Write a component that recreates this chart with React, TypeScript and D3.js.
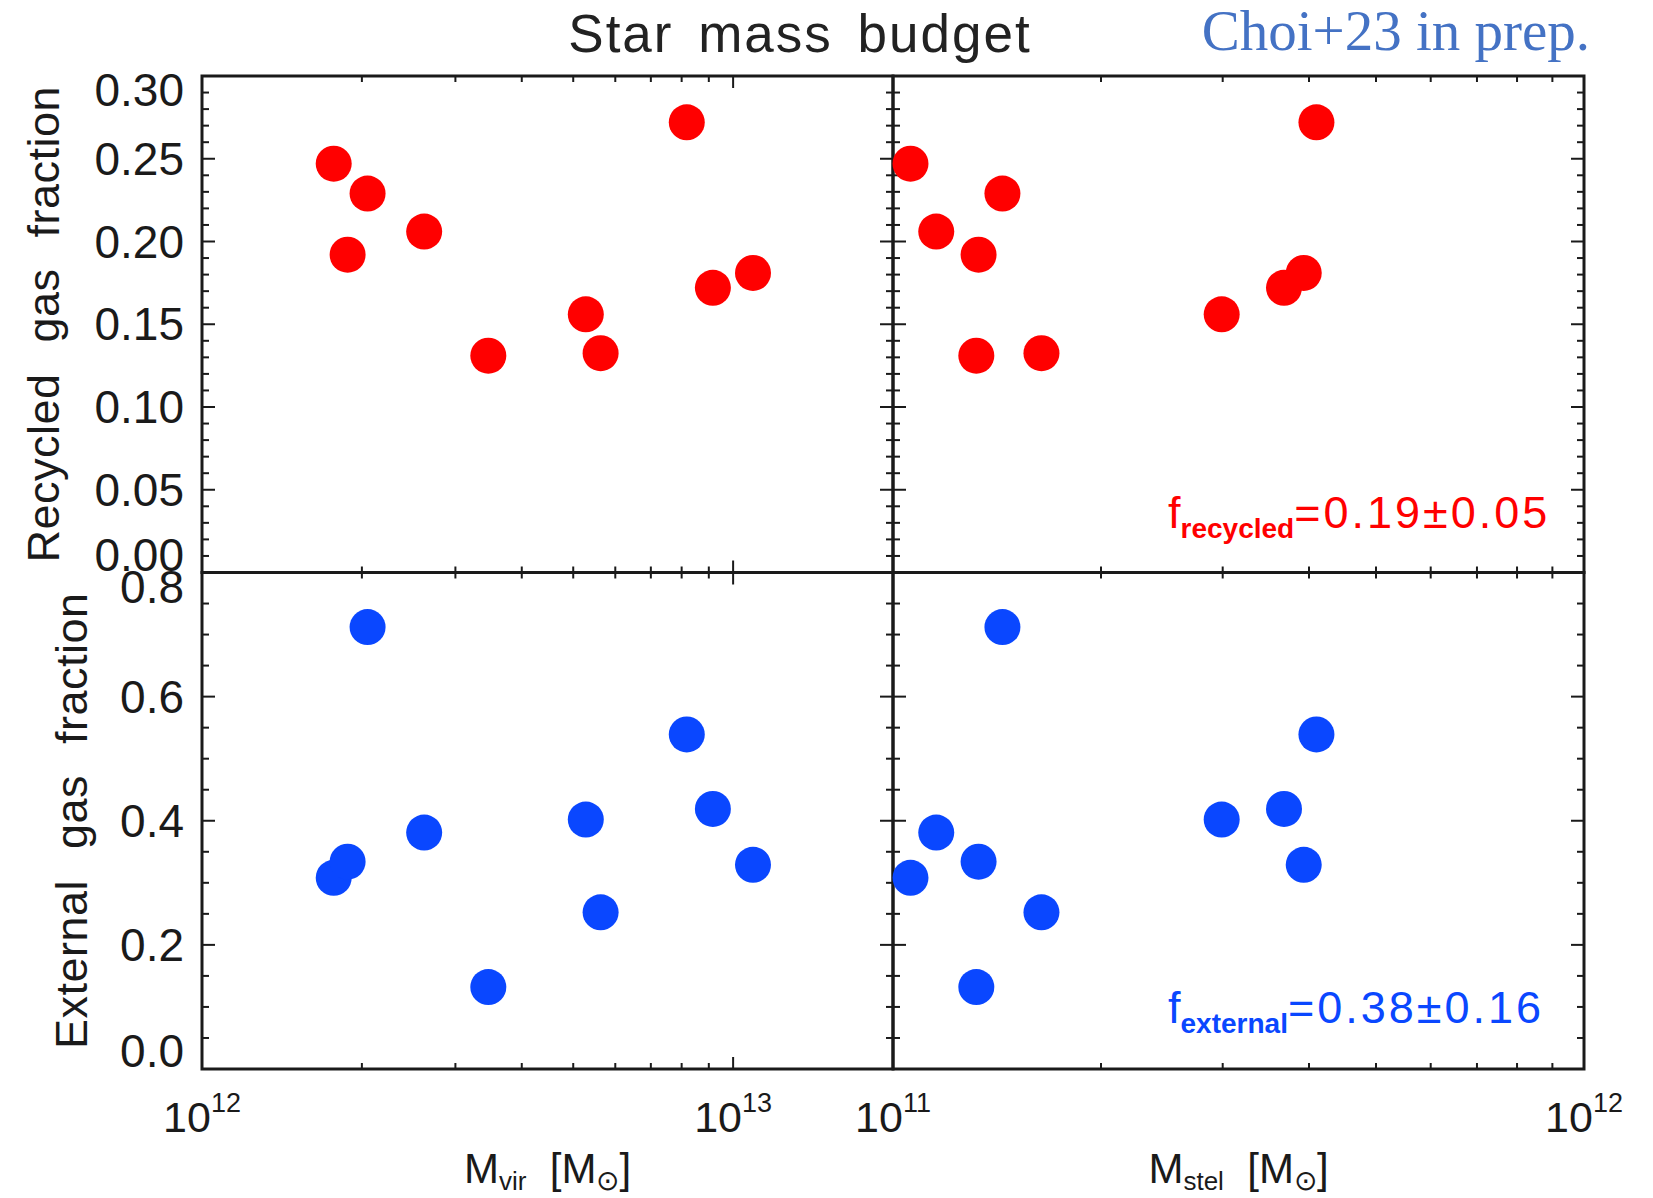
import React, { useEffect, useRef } from "react";
import * as d3 from "d3";

// one entry per simulated galaxy
const mVir = [1.77e12, 1.88e12, 2.05e12, 2.62e12, 3.46e12, 5.28e12, 5.63e12, 8.18e12, 9.16e12, 1.09e13];
const mStel = [1.06e11, 1.33e11, 1.44e11, 1.155e11, 1.32e11, 2.99e11, 1.64e11, 4.1e11, 3.68e11, 3.93e11];
const fRecycled = [0.247, 0.192, 0.229, 0.206, 0.131, 0.156, 0.1325, 0.272, 0.172, 0.181];
const fExternal = [0.308, 0.334, 0.712, 0.381, 0.132, 0.402, 0.2525, 0.539, 0.419, 0.329];

const recycledTicks = [0, 0.05, 0.1, 0.15, 0.2, 0.25, 0.3];
const externalTicks = [0, 0.2, 0.4, 0.6, 0.8];
const virDecades = [12, 13];
const stelDecades = [11, 12];

const W = 1653;
const H = 1198;
const left = 202, mid = 893, right = 1584;
const top = 76, midY = 572.5, bottom = 1069;

const RED = "#ff0000";
const BLUE = "#0a47ff";
const INK = "#1a1a1a";
const FONT = "'Liberation Sans', Arial, sans-serif";

const logTicks = (domain) => {
  const out = [];
  const d0 = Math.floor(Math.log10(domain[0]));
  const d1 = Math.ceil(Math.log10(domain[1]));
  for (let d = d0; d <= d1; d++) {
    for (let k = 1; k < 10; k++) {
      const v = k * Math.pow(10, d);
      if (v >= domain[0] * 0.999 && v <= domain[1] * 1.001) out.push({ v, major: k === 1 });
    }
  }
  return out;
};

const App = () => {
  const ref = useRef(null);

  useEffect(() => {
    const svg = d3.select(ref.current);
    svg.selectAll("*").remove();

    const xVir = d3.scaleLog().domain([1e12, 2e13]).range([left, mid]);
    const xStel = d3.scaleLog().domain([1e11, 1e12]).range([mid, right]);
    const yRec = d3.scaleLinear().domain([0, 0.3]).range([midY, top]);
    const yExt = d3.scaleLinear().domain([0, 0.8]).range([bottom, midY]);

    const panels = [
      { x: xVir, y: yRec, xs: mVir, ys: fRecycled, color: RED, minor: 0.01, major: 0.05 },
      { x: xStel, y: yRec, xs: mStel, ys: fRecycled, color: RED, minor: 0.01, major: 0.05 },
      { x: xVir, y: yExt, xs: mVir, ys: fExternal, color: BLUE, minor: 0.05, major: 0.2 },
      { x: xStel, y: yExt, xs: mStel, ys: fExternal, color: BLUE, minor: 0.05, major: 0.2 },
    ];

    panels.forEach((p) => {
      const [x0, x1] = p.x.range();
      const [yb, yt] = p.y.range();
      const g = svg.append("g");

      // x ticks on bottom and top edges
      logTicks(p.x.domain()).forEach((t) => {
        const len = t.major ? 12 : 6;
        const xx = p.x(t.v);
        g.append("line").attr("x1", xx).attr("x2", xx).attr("y1", yb).attr("y2", yb - len)
          .attr("stroke", INK).attr("stroke-width", 2);
        g.append("line").attr("x1", xx).attr("x2", xx).attr("y1", yt).attr("y2", yt + len)
          .attr("stroke", INK).attr("stroke-width", 2);
      });

      // y ticks on left and right edges
      const [v0, v1] = p.y.domain();
      const n = Math.round((v1 - v0) / p.minor);
      d3.range(n + 1).forEach((i) => {
        const v = v0 + i * p.minor;
        const isMajor = Math.abs(v / p.major - Math.round(v / p.major)) < 1e-6;
        const len = isMajor ? 13 : 7;
        const yy = p.y(v);
        g.append("line").attr("x1", x0).attr("x2", x0 + len).attr("y1", yy).attr("y2", yy)
          .attr("stroke", INK).attr("stroke-width", 2);
        g.append("line").attr("x1", x1).attr("x2", x1 - len).attr("y1", yy).attr("y2", yy)
          .attr("stroke", INK).attr("stroke-width", 2);
      });

      g.append("rect")
        .attr("x", x0).attr("y", yt).attr("width", x1 - x0).attr("height", yb - yt)
        .attr("fill", "none").attr("stroke", INK).attr("stroke-width", 3);

      g.selectAll("circle")
        .data(d3.range(p.xs.length))
        .join("circle")
        .attr("cx", (i) => p.x(p.xs[i]))
        .attr("cy", (i) => p.y(p.ys[i]))
        .attr("r", 18)
        .attr("fill", p.color);
    });

    // y tick labels (left panels only); end labels sit inside the panel
    const yLabels = (scale, ticks, fmt) => {
      const [d0, d1] = scale.domain();
      ticks.forEach((t) => {
        let yy = scale(t) + 16;
        if (t === d1) yy = scale(t) + 30;
        if (t === d0) yy = scale(t) - 2;
        svg.append("text").attr("x", 184).attr("y", yy).attr("text-anchor", "end")
          .attr("font-family", FONT).attr("font-size", 46).attr("fill", INK)
          .text(fmt(t));
      });
    };
    yLabels(yRec, recycledTicks, d3.format(".2f"));
    yLabels(yExt, externalTicks, d3.format(".1f"));

    // x tick labels as 10^n
    const xLabels = (scale, decades) => {
      decades.forEach((e) => {
        const t = svg.append("text").attr("x", scale(Math.pow(10, e))).attr("y", 1132)
          .attr("text-anchor", "middle").attr("font-family", FONT).attr("font-size", 43).attr("fill", INK);
        t.append("tspan").text("10");
        t.append("tspan").attr("font-size", 27).attr("dy", -20).text(String(e));
      });
    };
    xLabels(xVir, virDecades);
    xLabels(xStel, stelDecades);

    // axis titles
    const xTitle = (cx, sub) => {
      const t = svg.append("text").attr("x", cx).attr("y", 1183).attr("text-anchor", "middle")
        .attr("font-family", FONT).attr("font-size", 42).attr("fill", INK);
      t.append("tspan").text("M");
      t.append("tspan").attr("font-size", 26).attr("dy", 7).text(sub);
      t.append("tspan").attr("dy", -7).text("\u00a0\u00a0[M");
      t.append("tspan").attr("font-size", 28).attr("dy", 7).text("\u2299");
      t.append("tspan").attr("dy", -7).text("]");
    };
    xTitle((left + mid) / 2, "vir");
    xTitle((mid + right) / 2, "stel");

    const yTitle = (bx, cy, label) => {
      svg.append("text").attr("transform", `translate(${bx},${cy}) rotate(-90)`)
        .attr("text-anchor", "middle").attr("font-family", FONT).attr("font-size", 45)
        .attr("word-spacing", 18).attr("letter-spacing", 0.5).attr("fill", INK).text(label);
    };
    yTitle(59, (top + midY) / 2, "Recycled gas fraction");
    yTitle(87, (midY + bottom) / 2, "External gas fraction");

    // title and tag
    svg.append("text").attr("x", 800).attr("y", 52).attr("text-anchor", "middle")
      .attr("font-family", FONT).attr("font-size", 53).attr("word-spacing", 8)
      .attr("letter-spacing", 2).attr("fill", "#222").text("Star mass budget");
    svg.append("text").attr("x", 1590).attr("y", 50).attr("text-anchor", "end")
      .attr("font-family", "'Liberation Serif', 'DejaVu Serif', serif").attr("font-size", 57)
      .attr("fill", "#4472c4").text("Choi+23 in prep.");

    // mean fractions
    const note = (y, sub, value, color) => {
      const t = svg.append("text").attr("x", 1168).attr("y", y)
        .attr("font-family", FONT).attr("font-size", 45).attr("fill", color);
      t.append("tspan").text("f");
      t.append("tspan").attr("font-size", 28).attr("font-weight", "bold").attr("dy", 10).text(sub);
      t.append("tspan").attr("dy", -10).attr("letter-spacing", 3).text(value);
    };
    note(528, "recycled", "=0.19\u00b10.05", RED);
    note(1023, "external", "=0.38\u00b10.16", BLUE);
  }, []);

  return (
    <div style={{ position: "absolute", left: 0, top: 0 }}>
      <svg ref={ref} width={W} height={H} style={{ display: "block", background: "#fff" }}></svg>
    </div>
  );
};

export default App;
